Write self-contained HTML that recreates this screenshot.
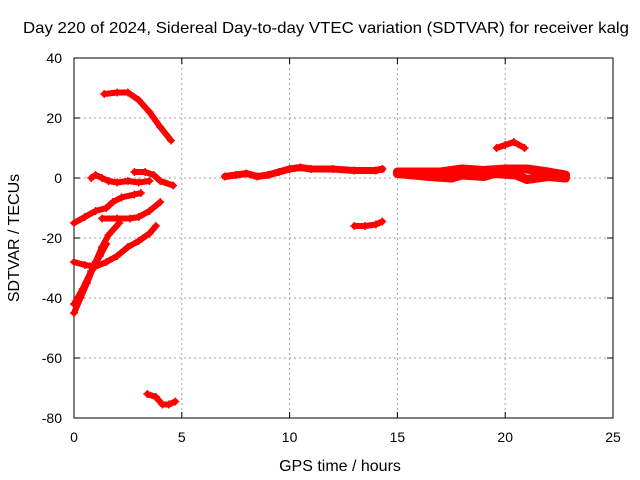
<!DOCTYPE html>
<html><head><meta charset="utf-8"><style>
body{margin:0;background:#fff}
svg{display:block;font-family:"Liberation Sans",sans-serif}
</style></head><body>
<svg id="chart" width="640" height="480">
<text x="326" y="33" text-anchor="middle" font-size="16" textLength="606" lengthAdjust="spacingAndGlyphs">Day 220 of 2024, Sidereal Day-to-day VTEC variation (SDTVAR) for receiver kalg</text>
<g id="grid"></g><g id="axes"></g><g id="series"></g>
<text x="340" y="471" text-anchor="middle" font-size="16">GPS time / hours</text>
<text transform="translate(19,238) rotate(-90)" text-anchor="middle" font-size="16">SDTVAR / TECUs</text>
</svg>
<script>
const xTicks=[0,5,10,15,20,25];
const yTicks=[40,20,0,-20,-40,-60,-80];
const seg1=[[1.4,28],[2,28.5],[2.5,28.5],[3,26],[3.5,22],[4,17],[4.5,12.5]];
const seg2=[[0.8,0],[1,1],[1.3,0],[1.6,-1],[2,-1.5],[2.5,-1],[3,-1.5],[3.5,-1]];
const seg3=[[2.8,2],[3.3,2],[3.7,1],[4,-1],[4.6,-2.5]];
const seg4=[[0,-15],[0.5,-13],[1,-11],[1.5,-10],[1.8,-8],[2.2,-6.5],[2.8,-5.5],[3.1,-5]];
const seg5=[[1.3,-13.5],[2,-13.5],[2.6,-13.5],[3,-13],[3.5,-11],[4,-8]];
const seg6=[[0,-28],[0.5,-29],[1,-29.5],[1.5,-28],[2,-26],[2.5,-23],[3,-21],[3.5,-18.5],[3.8,-16]];
const seg7=[[0,-45],[0.3,-40],[0.6,-35],[1,-28],[1.3,-23],[1.6,-19],[2.1,-15]];
const seg8=[[0,-42],[0.4,-37],[0.8,-31],[1.2,-26],[1.5,-22]];
const seg9=[[3.4,-72],[3.8,-73],[4.1,-75.5],[4.4,-75.5],[4.7,-74.5]];
const seg10=[[7,0.5],[7.5,1],[8,1.5],[8.5,0.5],[9,1],[9.5,2],[10,3],[10.5,3.5],[11,3],[12,3],[13,2.5],[14,2.5],[14.3,3]];
const seg11=[[15,2],[16,2],[17,2],[18,3],[19,2.5],[20,3],[21,3],[22,2],[22.8,1]];
const seg12=[[15,1.5],[16.5,0.5],[17.5,0],[18,1],[19,0.5],[19.5,1.5],[20.5,1],[21,-0.5],[22,0.5],[22.8,0]];
const seg13=[[13,-16],[13.5,-16],[14,-15.5],[14.3,-14.5]];
const seg14=[[19.6,10],[20,11],[20.4,12],[20.9,10]];
const segments=[seg1,seg2,seg3,seg4,seg5,seg6,seg7,seg8,seg9,seg10,seg11,seg12,seg13,seg14];
const thick=[6,6,6,6,6,6,6,6,6,7,9,9,6,6];
const L=74,R=613,T=58,B=418;
const xs=v=>L+(v/25)*(R-L);
const ys=v=>B-(v+80)/120*(B-T);
const NS="http://www.w3.org/2000/svg";
function mk(p,t,a){const e=document.createElementNS(NS,t);for(const k in a)e.setAttribute(k,a[k]);p.appendChild(e);return e;}
const grid=document.getElementById('grid'),axes=document.getElementById('axes'),ser=document.getElementById('series');
xTicks.forEach(t=>{const x=xs(t);
 if(t>0&&t<25){const g=mk(grid,'line',{x1:x,x2:x,y1:T,y2:B,stroke:'#a0a0a0','stroke-dasharray':'2,3'});
 }
 mk(axes,'line',{x1:x,x2:x,y1:B,y2:B-6,stroke:'#000'});mk(axes,'line',{x1:x,x2:x,y1:T,y2:T+6,stroke:'#000'});
 const l=mk(axes,'text',{x:x,y:B+24,'text-anchor':'middle','font-size':14});l.textContent=t;
 });
yTicks.forEach(t=>{const y=ys(t);
 if(t>-80&&t<40){const g=mk(grid,'line',{x1:L,x2:R,y1:y,y2:y,stroke:'#a0a0a0','stroke-dasharray':'2,3'});
 }
 mk(axes,'line',{x1:L,x2:L+6,y1:y,y2:y,stroke:'#000'});mk(axes,'line',{x1:R,x2:R-6,y1:y,y2:y,stroke:'#000'});
 const l=mk(axes,'text',{x:L-12,y:y+5,'text-anchor':'end','font-size':14});l.textContent=t;
 });
const fr=mk(axes,'rect',{x:L,y:T,width:R-L,height:B-T,fill:'none',stroke:'#000'});

segments.forEach((s,i)=>{
 const p=mk(ser,'polyline',{points:s.map(d=>xs(d[0])+','+ys(d[1])).join(' '),fill:'none',stroke:'#f00','stroke-width':thick[i],'stroke-linejoin':'round','stroke-linecap':'round'});
 
 
 s.forEach(d=>{const x=xs(d[0]),y=ys(d[1]);
  const m=mk(ser,'path',{d:`M${x-4},${y}h8M${x},${y-4}v8`,stroke:'#f00','stroke-width':1.5});
  
  });
});
</script>
</body></html>
